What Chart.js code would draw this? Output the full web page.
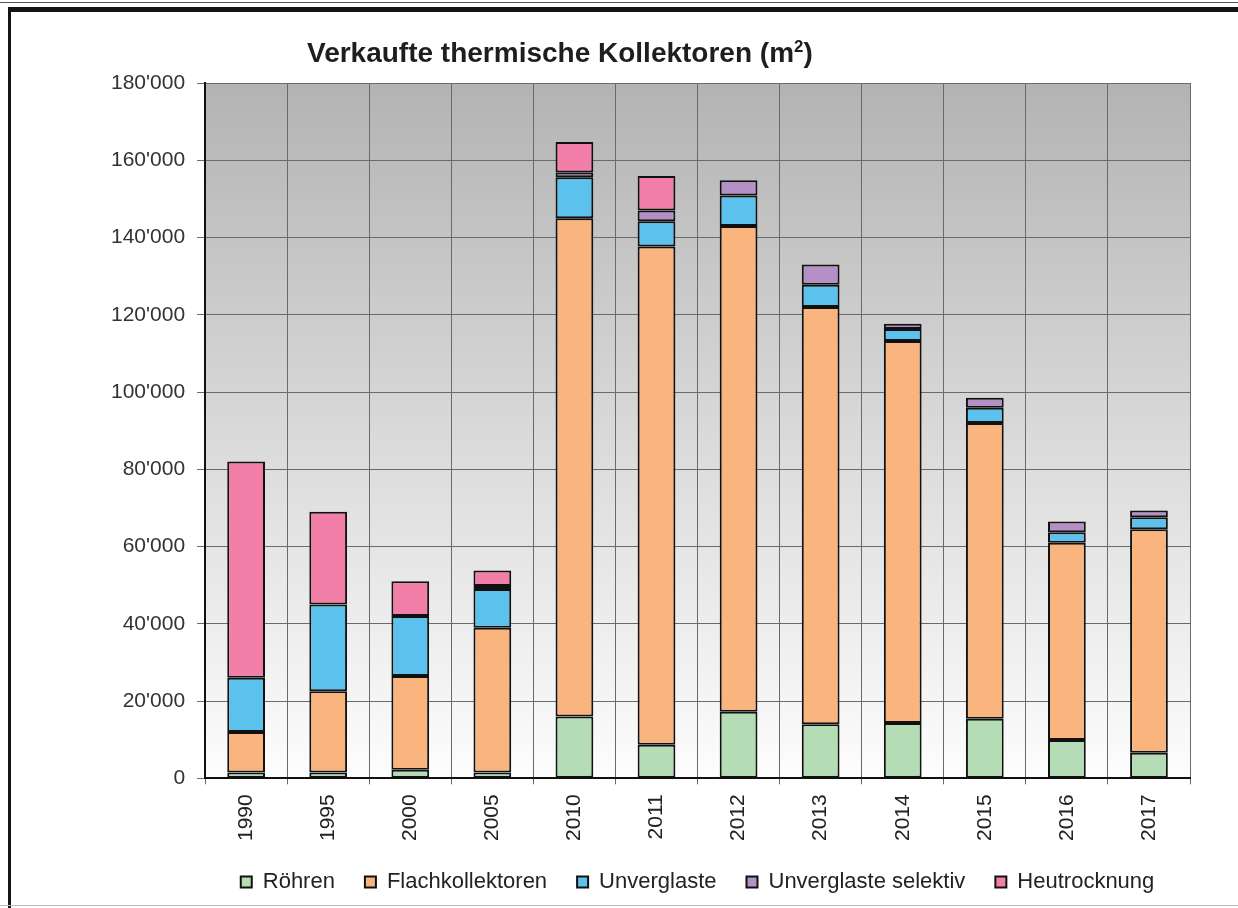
<!DOCTYPE html>
<html>
<head>
<meta charset="utf-8">
<script src="https://cdn.jsdelivr.net/npm/chart.js@4/dist/chart.umd.min.js"></script>
<style>
    html, body { margin: 0; padding: 0; background: #fff; }
    #wrap { position: relative; width: 1238px; height: 908px; overflow: hidden; }
    #chart { position: absolute; left: 0; top: 0; }
    #title {
        position: absolute; left: 307px; top: 37px;
        font: bold 28px "Liberation Sans", Arial, sans-serif; color: #1e1e1e;
        white-space: nowrap;
    }
    #title sup { font-size: 60%; line-height: 0; }
    .frame { position: absolute; pointer-events: none; }
</style>
</head>
<body>
<div id="wrap">
    <canvas id="chart" width="1238" height="908"></canvas>
    <div id="title">Verkaufte thermische Kollektoren (m<sup>2</sup>)</div>
    <!-- Rahmen wie im Original -->
    <div class="frame" style="left:0;top:2px;width:1238px;height:1px;background:#555;"></div>
    <div class="frame" style="left:8px;top:7px;width:1230px;height:5px;background:#151515;"></div>
    <div class="frame" style="left:8px;top:7px;width:3px;height:901px;background:#151515;"></div>
    <div class="frame" style="left:0;top:905px;width:1238px;height:1px;background:#bbb;"></div>
</div>

<script>
// Daten (m2)
const jahre = ['1990', '1995', '2000', '2005', '2010', '2011', '2012', '2013', '2014', '2015', '2016', '2017'];

const roehren       = [1500, 1500, 2200, 1500, 16000, 8700, 17200, 14000, 14300, 15400, 9900, 6600];
const flach         = [10500, 21000, 24300, 37500, 129000, 129000, 125800, 108000, 98900, 76600, 51100, 57900];
const unverglaste   = [14000, 22500, 15500, 10000, 10600, 6500, 7900, 5800, 3100, 3900, 2700, 3100];
const selektiv      = [null, null, null, 800, 1200, 2800, 3900, 5200, 1400, 2600, 2800, 1700];
const heutrocknung  = [56000, 24000, 9000, 4000, 7900, 8900, null, null, null, null, null, null];

const yMax = 180000;
const yStep = 20000;

const FONT = '"Liberation Sans", Arial, sans-serif';

// Tausender mit Apostroph (Schweizer Schreibweise)
const formatCH = (v) => String(v).replace(/\B(?=(\d{3})+(?!\d))/g, "'");

// Grauer Verlauf im Plotbereich
const plotBackground = {
    id: 'plotBackground',
    beforeDraw(chart) {
        const { ctx, chartArea: a } = chart;
        const g = ctx.createLinearGradient(0, a.top, 0, a.bottom);
        g.addColorStop(0, '#b3b3b3');
        g.addColorStop(0.5, '#d9d9d9');
        g.addColorStop(1, '#fdfdfd');
        ctx.save();
        ctx.fillStyle = g;
        ctx.fillRect(a.left, a.top, a.right - a.left, a.bottom - a.top);
        ctx.restore();
    }
};

const ds = (label, data, color) => ({
    label: label,
    data: data,
    backgroundColor: color,
    borderColor: '#111',
    borderWidth: 2,
    borderSkipped: false,
    barPercentage: 0.46,
    categoryPercentage: 1.0
});

const ctx = document.getElementById('chart').getContext('2d');
new Chart(ctx, {
    type: 'bar',
    data: {
        labels: jahre,
        datasets: [
            ds('Röhren', roehren, '#b4ddb6'),
            ds('Flachkollektoren', flach, '#f9b57d'),
            ds('Unverglaste', unverglaste, '#5cc1ec'),
            ds('Unverglaste selektiv', selektiv, '#b590c6'),
            ds('Heutrocknung', heutrocknung, '#f27fa8')
        ]
    },
    options: {
        responsive: false,
        animation: false,
        layout: { padding: { left: 99, right: 48, top: 83, bottom: 5 } },
        plugins: {
            title: { display: false },
            tooltip: { enabled: false },
            legend: {
                position: 'bottom',
                fullSize: false,
                labels: {
                    boxWidth: 11,
                    boxHeight: 11,
                    padding: 30,
                    color: '#222',
                    font: { family: FONT, size: 22 }
                }
            }
        },
        scales: {
            x: {
                stacked: true,
                afterFit(scale) { scale.height -= 10; },
                grid: { color: '#6a6a6a', lineWidth: 1, offset: true, tickLength: 6 },
                border: { color: '#111', width: 2 },
                ticks: {
                    maxRotation: 90, minRotation: 90,
                    color: '#222', padding: 10,
                    font: { family: FONT, size: 21 }
                }
            },
            y: {
                stacked: true,
                min: 0,
                max: yMax,
                grid: { color: '#6a6a6a', lineWidth: 1, tickLength: 8 },
                border: { color: '#111', width: 2 },
                ticks: {
                    stepSize: yStep,
                    color: '#333', padding: 12,
                    font: { family: FONT, size: 21 },
                    callback: (v) => formatCH(v)
                }
            }
        }
    },
    plugins: [plotBackground]
});
</script>
</body>
</html>
